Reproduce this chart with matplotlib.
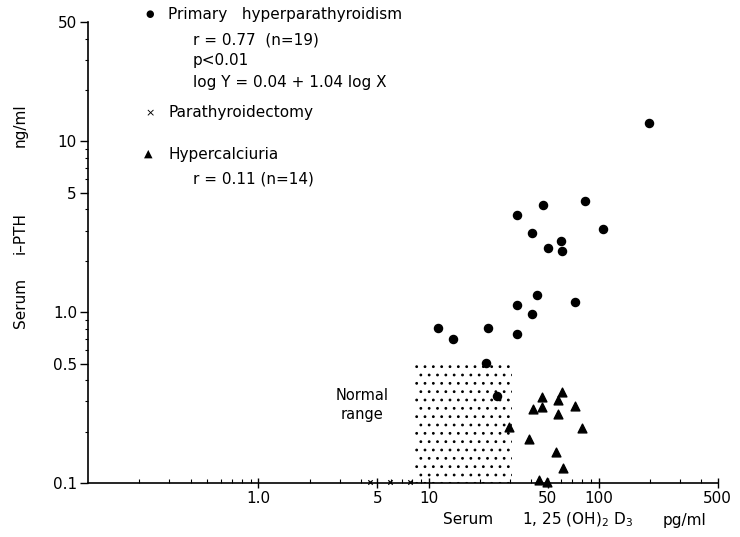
import matplotlib.pyplot as plt
from matplotlib.ticker import FixedLocator, FixedFormatter, LogLocator, NullFormatter

# serum 1,25(OH)2D3 (pg/ml) vs serum i-PTH (ng/ml)
primary_x = [11.3, 13.9, 22.2, 33.0, 33.0, 40.5, 43.6, 72.2, 33.2, 46.9,
             82.6, 40.7, 105.8, 60.0, 50.1, 60.8, 198, 21.8, 25.4]
primary_y = [0.81, 0.70, 0.805, 0.742, 1.10, 0.976, 1.256, 1.147, 3.69, 4.24,
             4.46, 2.91, 3.07, 2.62, 2.38, 2.28, 12.8, 0.502, 0.324]

hypercal_x = [29.8, 39.1, 41.1, 46.2, 46.2, 57.8, 61.1, 72.8, 57.8, 80.0,
              56.3, 61.7, 44.4, 49.9]
hypercal_y = [0.212, 0.181, 0.270, 0.318, 0.280, 0.306, 0.342, 0.282, 0.254,
              0.209, 0.151, 0.122, 0.104, 0.101]

ptx_x = [4.5, 5.9, 7.8]
ptx_y = [0.101, 0.101, 0.101]

normal_lo, normal_hi = 8.3, 31.0
normal_top = 0.5

x_ticks = [1, 5, 10, 50, 100, 500]
x_labels = ['1.0', '5', '10', '50', '100', '500']
y_ticks = [0.1, 0.5, 1, 5, 10, 50]
y_labels = ['0.1', '0.5', '1.0', '5', '10', '50']

plt.rcParams['font.family'] = 'DejaVu Sans'
plt.rcParams['hatch.linewidth'] = 0.8

fig = plt.figure(figsize=(7.4, 5.37), dpi=100)
ax = fig.add_axes([0.119, 0.1006, 0.851, 0.8584])
ax.set_xscale('log')
ax.set_yscale('log')
ax.set_xlim(0.1, 500)
ax.set_ylim(0.1, 50)

# normal range box (stippled)
ax.fill_between([normal_lo, normal_hi], 0.1, normal_top, facecolor='white',
                edgecolor='black', hatch='..', linewidth=0, zorder=1)

ax.scatter(primary_x, primary_y, s=34, c='black', marker='o', zorder=3)
ax.scatter(hypercal_x, hypercal_y, s=40, c='black', marker='^', zorder=3,
           clip_on=False)
ax.scatter(ptx_x, ptx_y, s=10, c='black', marker='x', linewidths=0.9,
           zorder=3, clip_on=False)

for s in ['top', 'right']:
    ax.spines[s].set_visible(False)
for s in ['left', 'bottom']:
    ax.spines[s].set_linewidth(1.2)

ax.xaxis.set_major_locator(FixedLocator(x_ticks))
ax.xaxis.set_major_formatter(FixedFormatter(x_labels))
ax.yaxis.set_major_locator(FixedLocator(y_ticks))
ax.yaxis.set_major_formatter(FixedFormatter(y_labels))
ax.xaxis.set_minor_locator(LogLocator(base=10, subs=range(2, 10)))
ax.yaxis.set_minor_locator(LogLocator(base=10, subs=range(2, 10)))
ax.xaxis.set_minor_formatter(NullFormatter())
ax.yaxis.set_minor_formatter(NullFormatter())
ax.tick_params(axis='x', which='major', direction='inout', length=7, width=1, labelsize=11, pad=2)
ax.tick_params(axis='x', which='minor', direction='in', length=3, width=0.8)
ax.tick_params(axis='y', which='major', direction='out', length=6, width=1, labelsize=11, pad=2)
ax.tick_params(axis='y', which='minor', direction='out', length=2.5, width=0.8)

ax.text(362 / 740, 1 - 405 / 537, 'Normal\nrange', transform=fig.transFigure,
        ha='center', va='center', fontsize=10.5, linespacing=1.3)

# key and statistics in the upper left
fs = 11
fig.text(150 / 740, 1 - 14 / 537, '\u25cf', fontsize=7, ha='center', va='center')
fig.text(168 / 740, 1 - 14 / 537, 'Primary   hyperparathyroidism', fontsize=fs, va='center')
fig.text(193 / 740, 1 - 40 / 537, 'r = 0.77  (n=19)', fontsize=fs, va='center')
fig.text(193 / 740, 1 - 61 / 537, 'p<0.01', fontsize=fs, va='center')
fig.text(193 / 740, 1 - 83 / 537, 'log Y = 0.04 + 1.04 log X', fontsize=fs, va='center')
fig.text(150 / 740, 1 - 113 / 537, '\u00d7', fontsize=8, ha='center', va='center')
fig.text(168 / 740, 1 - 113 / 537, 'Parathyroidectomy', fontsize=fs, va='center')
fig.text(148 / 740, 1 - 154 / 537, '\u25b2', fontsize=8, ha='center', va='center')
fig.text(168 / 740, 1 - 154 / 537, 'Hypercalciuria', fontsize=fs, va='center')
fig.text(193 / 740, 1 - 179 / 537, 'r = 0.11 (n=14)', fontsize=fs, va='center')

# axis titles, spaced out in pieces
fig.text(20 / 740, 1 - 303 / 537, 'Serum', rotation=90, fontsize=fs, ha='center', va='center')
fig.text(20 / 740, 1 - 233 / 537, 'i\u2013PTH', rotation=90, fontsize=fs, ha='center', va='center')
fig.text(20 / 740, 1 - 125 / 537, 'ng/ml', rotation=90, fontsize=fs, ha='center', va='center')

fig.text(468 / 740, 1 - 520 / 537, 'Serum', fontsize=fs, ha='center', va='center')
fig.text(522 / 740, 1 - 520 / 537, r'1, 25 (OH)$_2$ D$_3$', fontsize=fs, ha='left', va='center')
fig.text(685 / 740, 1 - 520 / 537, 'pg/ml', fontsize=fs, ha='center', va='center')

fig.savefig('out.png', dpi=100)
